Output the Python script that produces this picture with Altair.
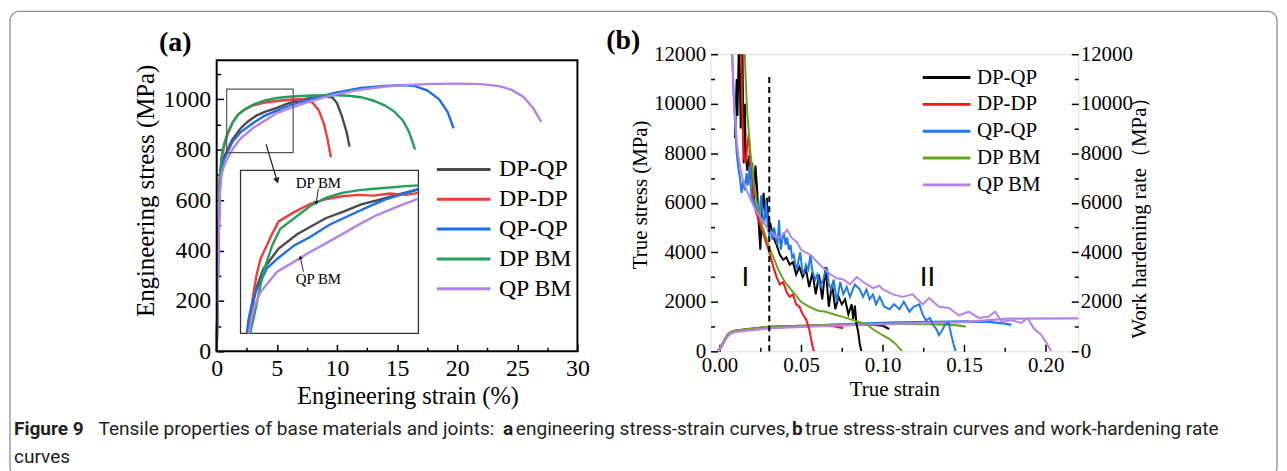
import altair as alt
import pandas as pd

SERIES = ["DP-QP", "DP-DP", "QP-QP", "DP BM", "QP BM"]
COLORS_A = ["#4a4a4a", "#ee3d3d", "#1d6fe5", "#23a05b", "#b384e8"]
COLORS_B = ["#000000", "#ff1414", "#1f7be6", "#67a51f", "#b682e8"]

SERIF = "Liberation Serif"
CAP_FONT = "Roboto"

# ---------------- (a) engineering strain (%) , engineering stress (MPa)
A_DPQP = [(0, 0), (0.12, 350), (0.25, 660), (0.4, 735), (0.6, 770), (0.9, 800), (1.3, 840), (2.0, 885),
          (2.6, 912), (3.3, 935), (4.0, 950), (5.0, 966), (6.0, 985), (7.0, 998), (8.0, 1006), (9.0, 1011),
          (9.6, 1008), (10.0, 985), (10.4, 935), (10.8, 870), (11.05, 812)]
A_DPDP = [(0, 0), (0.12, 360), (0.25, 680), (0.4, 760), (0.6, 810), (0.9, 860), (1.3, 905), (1.7, 935),
          (2.2, 955), (3.0, 975), (4.0, 987), (5.0, 993), (6.0, 998), (7.0, 1000), (7.6, 996), (8.0, 985),
          (8.5, 955), (8.9, 905), (9.2, 845), (9.5, 770)]
A_QPQP = [(0, 0), (0.12, 340), (0.25, 640), (0.4, 720), (0.6, 760), (0.9, 790), (1.3, 830), (2.0, 870),
          (3.0, 905), (4.0, 935), (5.0, 955), (6.0, 975), (7.0, 990), (8.0, 1003), (10.0, 1027), (12.0, 1045),
          (14.0, 1053), (15.5, 1056), (16.5, 1052), (17.5, 1035), (18.5, 1000), (19.2, 950), (19.7, 885)]
A_DPBM = [(0, 0), (0.12, 360), (0.25, 690), (0.4, 770), (0.6, 820), (0.9, 865), (1.3, 905), (1.8, 940),
          (2.4, 962), (3.0, 978), (4.0, 995), (5.0, 1005), (6.0, 1010), (7.0, 1013), (8.0, 1015), (9.0, 1016),
          (10.0, 1016), (11.0, 1014), (12.0, 1008), (13.0, 995), (14.0, 975), (14.8, 950), (15.5, 915),
          (16.0, 870), (16.5, 800)]
A_QPBM = [(0, 0), (0.12, 330), (0.25, 620), (0.4, 700), (0.6, 735), (0.9, 765), (1.3, 800), (2.0, 845),
          (3.0, 885), (4.0, 915), (5.0, 945), (6.0, 963), (7.0, 980), (8.0, 995), (9.0, 1008), (10.0, 1020),
          (12.0, 1038), (14.0, 1050), (16.0, 1057), (18.0, 1061), (20.0, 1062), (22.0, 1060), (23.5, 1052),
          (24.5, 1038), (25.5, 1010), (26.3, 966), (27.0, 910)]

# inset (zoomed view)
IN_DPQP = [(1.05, 785), (1.15, 820), (1.3, 852), (1.52, 880), (2.0, 910), (2.58, 931), (3.0, 942), (3.5, 955),
           (4.02, 964), (4.6, 975), (5.27, 983), (5.8, 990), (6.4, 997)]
IN_DPDP = [(1.04, 785), (1.12, 815), (1.2, 842), (1.3, 870), (1.43, 895), (1.6, 912), (1.8, 932), (2.0, 950),
           (2.5, 964), (3.0, 976), (3.5, 983), (4.0, 987), (4.5, 989), (5.0, 988), (5.5, 991), (6.0, 989), (6.4, 992)]
IN_QPQP = [(1.0, 785), (1.05, 805), (1.15, 827), (1.25, 843), (1.33, 851), (1.63, 881), (1.96, 895), (2.5, 915),
           (2.99, 927), (3.6, 945), (4.24, 959), (4.8, 971), (5.4, 983), (5.9, 990), (6.4, 998)]
IN_DPBM = [(1.1, 785), (1.2, 805), (1.3, 827), (1.52, 876), (1.8, 915), (2.05, 939), (2.5, 955), (3.0, 973),
           (3.5, 985), (4.0, 992), (4.55, 996), (5.0, 998), (5.5, 1000), (6.0, 1002), (6.4, 1003)]
IN_QPBM = [(1.06, 785), (1.14, 805), (1.22, 822), (1.43, 846), (1.95, 876), (2.47, 890), (2.99, 905), (3.5, 918),
           (4.03, 932), (4.55, 946), (5.08, 959), (5.7, 971), (6.38, 983)]
IN_X_DOMAIN = [0.8, 6.4]
IN_Y_DOMAIN = [785, 1025]
IN_LABELS = ["DP BM", "QP BM"]
IN_LABEL_X = [3.25, 3.25]
IN_LABEL_Y = [1006, 865]
IN_ARROW_X = [(3.25, 3.18), (2.78, 2.68)]
IN_ARROW_Y = [(998, 977), (876, 897)]

ZOOM_BOX_X = [0.83, 6.36]
ZOOM_BOX_Y = [788, 1040]
ZOOM_ARROW_X = [4.11, 5.02]
ZOOM_ARROW_Y = [821, 677]

A_X_DOMAIN = [0, 30]
A_Y_DOMAIN = [0, 1155]
A_XTICKS = [2.5 * k for k in range(13)]
A_YTICKS = list(range(0, 1101, 100))

# ---------------- (b) true strain, true stress / work hardening rate (MPa)
B_TS_DPQP = [(-0.001, 0), (0.001, 180), (0.003, 430), (0.005, 650), (0.007, 760), (0.010, 820), (0.017, 880),
             (0.030, 975), (0.045, 1010), (0.06, 1035), (0.08, 1070), (0.092, 1090), (0.1, 1040), (0.104, 900)]
B_TS_DPDP = [(-0.001, 0), (0.001, 190), (0.003, 450), (0.005, 670), (0.007, 780), (0.010, 840), (0.017, 900),
             (0.030, 990), (0.04, 1010), (0.05, 1025), (0.06, 1035), (0.07, 1020), (0.0758, 935)]
B_TS_QPQP = [(-0.001, 0), (0.001, 180), (0.003, 430), (0.005, 650), (0.007, 760), (0.010, 815), (0.017, 870),
             (0.030, 960), (0.05, 1010), (0.07, 1080), (0.09, 1130), (0.11, 1170), (0.13, 1190), (0.15, 1205),
             (0.165, 1190), (0.175, 1120), (0.179, 1070)]
B_TS_DPBM = [(-0.001, 0), (0.001, 190), (0.003, 450), (0.005, 670), (0.007, 780), (0.010, 835), (0.017, 890),
             (0.030, 985), (0.05, 1030), (0.07, 1070), (0.09, 1095), (0.11, 1105), (0.13, 1095), (0.145, 1060),
             (0.151, 1000)]
B_TS_QPBM = [(-0.001, 0), (0.001, 170), (0.003, 410), (0.005, 620), (0.007, 730), (0.010, 790), (0.017, 840),
             (0.030, 930), (0.05, 990), (0.07, 1040), (0.09, 1080), (0.11, 1120), (0.13, 1150), (0.15, 1180),
             (0.165, 1260), (0.177, 1320), (0.22, 1330)]

B_WH_DPQP = [(0.0095, 8600), (0.0105, 11000), (0.011, 9500), (0.012, 13000), (0.013, 9000), (0.014, 12500),
             (0.0148, 7600), (0.0155, 10000), (0.016, 8000), (0.017, 7300), (0.018, 7900), (0.019, 7400),
             (0.020, 7600), (0.021, 5900), (0.022, 7500), (0.023, 6600), (0.024, 5200), (0.025, 4100),
             (0.026, 5600), (0.027, 6400), (0.028, 5400), (0.029, 6200), (0.030, 4900), (0.031, 5200),
             (0.033, 4600), (0.035, 4300), (0.037, 3900), (0.039, 3700), (0.041, 3800), (0.043, 3500),
             (0.045, 3600), (0.047, 3100), (0.049, 3400), (0.051, 3000), (0.053, 3300), (0.055, 2600),
             (0.057, 3200), (0.059, 2300), (0.061, 3100), (0.063, 2100), (0.065, 3400), (0.067, 1800),
             (0.069, 2700), (0.071, 1700), (0.073, 2200), (0.075, 1900), (0.077, 2100), (0.079, 1500),
             (0.081, 1900), (0.082, 1300), (0.083, 1850), (0.084, 1100), (0.085, 800), (0.086, 300), (0.087, 0)]
B_WH_DPDP = [(0.013, 13000), (0.014, 9500), (0.015, 7800), (0.016, 7600), (0.017, 8300), (0.018, 8800),
             (0.019, 7400), (0.020, 7000), (0.021, 6000), (0.022, 5700), (0.024, 5300), (0.026, 4900),
             (0.028, 4500), (0.030, 4100), (0.031, 3900), (0.033, 3400), (0.035, 3000), (0.037, 2700),
             (0.039, 2800), (0.041, 2400), (0.043, 2200), (0.045, 2300), (0.047, 1900), (0.049, 1800),
             (0.051, 1500), (0.053, 1300), (0.055, 900), (0.057, 200), (0.058, 0)]
B_WH_QPQP = [(0.0075, 12500), (0.0085, 10500), (0.0095, 9200), (0.0105, 8000), (0.0115, 7400), (0.0125, 7000),
             (0.0135, 6400), (0.0145, 6900), (0.0155, 6500), (0.0165, 7200), (0.0175, 6700), (0.0185, 7500),
             (0.0195, 6300), (0.0205, 6000), (0.0215, 6100), (0.0225, 5600), (0.0235, 5900), (0.0245, 5500),
             (0.0255, 6300), (0.0265, 5400), (0.0275, 5300), (0.0285, 6100), (0.0295, 5000), (0.0305, 4700),
             (0.0315, 4900), (0.0325, 4500), (0.0335, 5000), (0.0345, 4600), (0.0355, 4300), (0.0365, 5300),
             (0.0375, 4100), (0.0385, 4500), (0.0395, 4800), (0.0405, 4300), (0.0415, 4600), (0.0425, 4100),
             (0.0435, 4300), (0.0445, 3800), (0.0455, 3900), (0.0465, 3500), (0.0475, 3300), (0.0485, 3700),
             (0.0495, 4000), (0.0505, 3400), (0.0515, 3100), (0.0530, 3500), (0.0545, 3300), (0.0557, 3900),
             (0.0570, 3200), (0.0587, 2900), (0.0600, 3100), (0.0617, 2600), (0.0635, 2900), (0.0658, 3400),
             (0.0670, 2700), (0.0685, 2500), (0.0700, 2900), (0.0719, 2000), (0.0740, 2800), (0.0759, 2300),
             (0.0780, 2600), (0.0800, 2200), (0.0830, 2700), (0.0860, 2500), (0.0880, 2200), (0.0901, 2500),
             (0.0920, 2100), (0.0941, 2300), (0.0960, 1900), (0.0982, 2200), (0.1010, 1800), (0.1043, 1700),
             (0.1070, 1900), (0.1103, 1700), (0.1130, 2000), (0.1164, 1600), (0.1190, 1800), (0.1225, 1900),
             (0.1245, 1500), (0.1265, 1250), (0.1290, 1350), (0.1310, 1050), (0.1330, 900), (0.1345, 650),
             (0.1365, 850), (0.1385, 1100), (0.1406, 1150), (0.1420, 700), (0.1435, 300), (0.1447, 0)]
B_WH_DPBM = [(0.0150, 13000), (0.016, 11000), (0.017, 9600), (0.018, 8800), (0.019, 8000), (0.020, 7400),
             (0.022, 6300), (0.024, 5700), (0.026, 5100), (0.028, 4700), (0.030, 4300), (0.033, 3800),
             (0.036, 3300), (0.040, 2800), (0.045, 2400), (0.050, 2000), (0.055, 1800), (0.060, 1650),
             (0.065, 1600), (0.070, 1500), (0.075, 1400), (0.080, 1300), (0.085, 1200), (0.090, 1100),
             (0.095, 850), (0.100, 650), (0.104, 500), (0.108, 300), (0.112, 0)]
B_WH_QPBM = [(0.0075, 12500), (0.0085, 10800), (0.0095, 9500), (0.0105, 8500), (0.0115, 7900), (0.0125, 7500),
             (0.014, 7000), (0.016, 6600), (0.018, 6300), (0.020, 6000), (0.023, 5600), (0.026, 5300),
             (0.029, 5000), (0.032, 4800), (0.035, 4600), (0.038, 4650), (0.0415, 4900), (0.044, 4600),
             (0.0476, 4400), (0.050, 4100), (0.0557, 3900), (0.060, 3600), (0.0638, 3350), (0.068, 3100),
             (0.0719, 2950), (0.076, 2900), (0.080, 2700), (0.0841, 3000), (0.0881, 2800), (0.0941, 2550),
             (0.098, 2650), (0.1002, 2500), (0.1063, 2300), (0.1123, 2200), (0.1184, 2300), (0.1245, 1900),
             (0.1285, 2150), (0.1346, 1800), (0.1407, 1750), (0.1468, 1450), (0.1528, 1600), (0.1589, 1350),
             (0.165, 1400), (0.169, 1600), (0.1731, 1200), (0.1791, 1250), (0.185, 1150), (0.189, 1335),
             (0.193, 900), (0.197, 680), (0.2005, 350), (0.2034, 0)]

DASH_X = 0.0305
DASH_Y = [0, 11170]
ROMAN_TEXT = ["I", "II"]
ROMAN_X = [0.0158, 0.1275]
ROMAN_Y = [2940, 2940]

B_XTICKS = [round(0.025 * k, 3) for k in range(9)]
B_YTICKS = list(range(0, 12001, 1000))

CAPTION_LINE1 = [("Figure 9", True), ("Tensile properties of base materials and joints:", False),
                 ("a", True), ("engineering stress-strain curves,", False), ("b", True),
                 ("true stress-strain curves and work-hardening rate", False)]
CAPTION_LINE2 = "curves"


def table(curves):
    rows = []
    for name, pts in curves:
        for i, (x, y) in enumerate(pts):
            rows.append({"series": name, "x": x, "y": y, "i": i})
    return pd.DataFrame(rows)


one = pd.DataFrame({"v": [0]})

AX = dict(labelFont=SERIF, titleFont=SERIF, labelColor="black", titleColor="black", tickColor="black",
          tickWidth=1.5, domain=False, grid=False, titleFontWeight="normal", labelFlush=False,
          labelOverlap=False)

# ================= panel (a)  (view is 299 tall; plot frame occupies its lower 293 px)
W_A, H_A = 363, 299
TOP_A = 6
df_a = table(list(zip(SERIES, [A_DPQP, A_DPDP, A_QPQP, A_DPBM, A_QPBM])))
df_in = table(list(zip(SERIES, [IN_DPQP, IN_DPDP, IN_QPQP, IN_DPBM, IN_QPBM])))

sx_a = alt.Scale(domain=A_X_DOMAIN, nice=False, zero=False)
sy_a = alt.Scale(domain=A_Y_DOMAIN, range=[H_A, TOP_A], nice=False, zero=False)
col_a = alt.Scale(domain=SERIES, range=COLORS_A)
leg_a = alt.Legend(orient="none", legendX=220, legendY=98 + TOP_A, title=None, symbolType="stroke",
                   symbolSize=2916, symbolStrokeWidth=3, labelFont=SERIF, labelFontSize=24, labelColor="black",
                   clipHeight=24, rowPadding=6, labelOffset=7, padding=0)

ax_a_x = alt.Axis(values=A_XTICKS, format="d", labelExpr="datum.value % 5 === 0 ? datum.label : ''",
                  tickSize={"expr": "datum.value % 5 === 0 ? -7 : -4"}, labelFontSize=24, labelPadding=12,
                  title="Engineering strain (%)", titleFontSize=24.5, titleX=192, titleY=53,
                  titleBaseline="alphabetic", titleAlign="center", **AX)
ax_a_y = alt.Axis(values=A_YTICKS, format="d", labelExpr="datum.value % 200 === 0 ? datum.label : ''",
                  tickSize={"expr": "datum.value % 200 === 0 ? -7 : -4"}, labelFontSize=24, labelPadding=13,
                  title="Engineering stress (MPa)", titleFontSize=25, titleAngle=270, titleX=-64,
                  titleY=131 + TOP_A, titleBaseline="alphabetic", titleAlign="center", **AX)

lines_a = alt.Chart(df_a).mark_line(strokeWidth=2.4).encode(
    x=alt.X("x:Q", scale=sx_a, axis=ax_a_x),
    y=alt.Y("y:Q", scale=sy_a, axis=ax_a_y),
    color=alt.Color("series:N", scale=col_a, legend=leg_a),
    order=alt.Order("i:Q"),
)


def rect_layer(xs, ys, sx, sy, ax_x, ax_y, stroke, width):
    return alt.Chart(pd.DataFrame({"x": [xs[0]], "x2": [xs[1]], "y": [ys[0]], "y2": [ys[1]]})).mark_rect(
        fill="transparent", stroke=stroke, strokeWidth=width).encode(
        x=alt.X("x:Q", scale=sx, axis=ax_x), x2="x2:Q", y=alt.Y("y:Q", scale=sy, axis=ax_y), y2="y2:Q")


frame_a = rect_layer(A_X_DOMAIN, A_Y_DOMAIN, sx_a, sy_a, ax_a_x, ax_a_y, "black", 2)
box_a = rect_layer(ZOOM_BOX_X, ZOOM_BOX_Y, sx_a, sy_a, ax_a_x, ax_a_y, "#555555", 1.2)
arrow_a = alt.Chart(pd.DataFrame({"x": [ZOOM_ARROW_X[0]], "x2": [ZOOM_ARROW_X[1]], "y": [ZOOM_ARROW_Y[0]],
                                  "y2": [ZOOM_ARROW_Y[1]]})).mark_rule(color="#222222", strokeWidth=1.3).encode(
    x=alt.X("x:Q", scale=sx_a, axis=ax_a_x), x2="x2:Q", y=alt.Y("y:Q", scale=sy_a, axis=ax_a_y), y2="y2:Q")
head_a = alt.Chart(pd.DataFrame({"x": [ZOOM_ARROW_X[1]], "y": [ZOOM_ARROW_Y[1]]})).mark_point(
    shape="triangle-down", filled=True, color="#222222", size=45, angle=343, opacity=1).encode(
    x=alt.X("x:Q", scale=sx_a, axis=ax_a_x), y=alt.Y("y:Q", scale=sy_a, axis=ax_a_y))
tag_a = alt.Chart(one).mark_text(text="(a)", font=SERIF, fontSize=28, fontWeight="bold", align="left",
                                 baseline="alphabetic", color="black").encode(
    x=alt.value(-58), y=alt.value(-9 + TOP_A))

main_a = alt.layer(lines_a, frame_a, box_a, arrow_a, head_a, tag_a)

sx_in = alt.Scale(domain=IN_X_DOMAIN, range=[24, 203], nice=False, zero=False)
sy_in = alt.Scale(domain=IN_Y_DOMAIN, range=[275 + TOP_A, 111 + TOP_A], nice=False, zero=False)
inset_lines = alt.Chart(df_in).mark_line(strokeWidth=2.4).encode(
    x=alt.X("x:Q", scale=sx_in, axis=None),
    y=alt.Y("y:Q", scale=sy_in, axis=None),
    color=alt.Color("series:N", scale=col_a, legend=leg_a),
    order=alt.Order("i:Q"),
)
inset_frame = rect_layer(IN_X_DOMAIN, IN_Y_DOMAIN, sx_in, sy_in, None, None, "#333333", 1.3)
inset_text = alt.Chart(pd.DataFrame({"t": IN_LABELS, "x": IN_LABEL_X, "y": IN_LABEL_Y})).mark_text(
    font=SERIF, fontSize=15, color="black", baseline="middle").encode(
    x=alt.X("x:Q", scale=sx_in, axis=None), y=alt.Y("y:Q", scale=sy_in, axis=None), text="t:N")
inset_arrows = alt.Chart(pd.DataFrame({"x": [a[0] for a in IN_ARROW_X], "x2": [a[1] for a in IN_ARROW_X],
                                       "y": [a[0] for a in IN_ARROW_Y], "y2": [a[1] for a in IN_ARROW_Y]})).mark_rule(
    color="#222222", strokeWidth=1).encode(
    x=alt.X("x:Q", scale=sx_in, axis=None), x2="x2:Q", y=alt.Y("y:Q", scale=sy_in, axis=None), y2="y2:Q")
head_dp = alt.Chart(pd.DataFrame({"x": [IN_ARROW_X[0][1]], "y": [IN_ARROW_Y[0][1]]})).mark_point(
    shape="triangle-down", filled=True, color="#222222", size=20, angle=8, opacity=1).encode(
    x=alt.X("x:Q", scale=sx_in, axis=None), y=alt.Y("y:Q", scale=sy_in, axis=None))
head_qp = alt.Chart(pd.DataFrame({"x": [IN_ARROW_X[1][1]], "y": [IN_ARROW_Y[1][1]]})).mark_point(
    shape="triangle-up", filled=True, color="#222222", size=20, angle=348, opacity=1).encode(
    x=alt.X("x:Q", scale=sx_in, axis=None), y=alt.Y("y:Q", scale=sy_in, axis=None))

inset_a = alt.layer(inset_frame, inset_lines, inset_text, inset_arrows, head_dp, head_qp)

panel_a = alt.layer(main_a, inset_a).resolve_scale(x="independent", y="independent").properties(
    width=W_A, height=H_A, view=alt.ViewBackground(stroke="transparent"))

# ================= panel (b)
W_B, H_B = 370, 299
df_ts = table(list(zip(SERIES, [B_TS_DPQP, B_TS_DPDP, B_TS_QPQP, B_TS_DPBM, B_TS_QPBM])))
df_wh = table(list(zip(SERIES, [B_WH_DPQP, B_WH_DPDP, B_WH_QPQP, B_WH_DPBM, B_WH_QPBM])))

sx_b = alt.Scale(domain=[-0.0055, 0.22], nice=False, zero=False)
sy_b = alt.Scale(domain=[0, 12000], nice=False, zero=False)
col_b = alt.Scale(domain=SERIES, range=COLORS_B)
leg_b = alt.Legend(orient="none", legendX=212, legendY=13, title=None, symbolType="stroke", symbolSize=2304,
                   symbolStrokeWidth=3, labelFont=SERIF, labelFontSize=21, labelColor="black", clipHeight=21,
                   rowPadding=5, labelOffset=5, padding=0)

ax_b_x = alt.Axis(values=B_XTICKS, format=".2f",
                  labelExpr="abs(round(datum.value*1000)) % 50 === 0 ? datum.label : ''",
                  tickSize={"expr": "abs(round(datum.value*1000)) % 50 === 0 ? -7 : -4"},
                  labelFontSize=21, labelPadding=10, title="True strain", titleFontSize=21, titleX=185,
                  titleY=44, titleBaseline="alphabetic", titleAlign="center", **AX)
ax_b_yl = alt.Axis(values=B_YTICKS, format="d", orient="left",
                   labelExpr="datum.value % 2000 === 0 ? datum.label : ''",
                   tickSize={"expr": "datum.value % 2000 === 0 ? -7 : -4"}, labelFontSize=21, labelPadding=12,
                   title="True stress (MPa)", titleFontSize=21, titleAngle=270, titleX=-64, titleY=141,
                   titleBaseline="alphabetic", titleAlign="center", **AX)
ax_b_yr = alt.Axis(values=B_YTICKS, format="d", orient="right",
                   labelExpr="datum.value % 2000 === 0 ? datum.label : ''",
                   tickSize={"expr": "datum.value % 2000 === 0 ? -7 : -4"}, labelFontSize=21, labelPadding=9,
                   title="Work hardening rate（MPa）", titleFontSize=21, titleAngle=270, titleX=68, titleY=159,
                   titleBaseline="alphabetic", titleAlign="center", **AX)

ts_lines = alt.Chart(df_ts).mark_line(strokeWidth=2.3).encode(
    x=alt.X("x:Q", scale=sx_b, axis=ax_b_x),
    y=alt.Y("y:Q", scale=sy_b, axis=ax_b_yl),
    color=alt.Color("series:N", scale=col_b, legend=leg_b),
    order=alt.Order("i:Q"),
)
wh_lines = alt.Chart(df_wh).mark_line(strokeWidth=2, clip=True).encode(
    x=alt.X("x:Q", scale=sx_b, axis=ax_b_x),
    y=alt.Y("y:Q", scale=sy_b, axis=ax_b_yr),
    color=alt.Color("series:N", scale=col_b, legend=leg_b),
    order=alt.Order("i:Q"),
)
dash_b = alt.Chart(pd.DataFrame({"x": [DASH_X], "y": [DASH_Y[0]], "y2": [DASH_Y[1]]})).mark_rule(
    color="black", strokeWidth=2, strokeDash=[6, 4]).encode(
    x=alt.X("x:Q", scale=sx_b, axis=ax_b_x), y=alt.Y("y:Q", scale=sy_b, axis=None), y2="y2:Q")
roman_b = alt.Chart(pd.DataFrame({"t": ROMAN_TEXT, "x": ROMAN_X, "y": ROMAN_Y})).mark_text(
    font="Liberation Sans", fontSize=28, color="black", baseline="middle").encode(
    x=alt.X("x:Q", scale=sx_b, axis=ax_b_x), y=alt.Y("y:Q", scale=sy_b, axis=None), text="t:N")
tag_b = alt.Chart(one).mark_text(text="(b)", font=SERIF, fontSize=28, fontWeight="bold", align="left",
                                 baseline="alphabetic", color="black").encode(x=alt.value(-105), y=alt.value(-5))

panel_b = alt.layer(ts_lines, wh_lines, dash_b, roman_b, tag_b).resolve_scale(
    y="independent").properties(width=W_B, height=H_B)

# ================= caption and outer frame (positions relative to the caption cell)
CAP_SIZE = 19.2
CAP_X1 = [-204, -119, 288, 301, 579, 592]
cap_layers = [alt.Chart(one).mark_rect(fill="transparent", stroke="#8c8c8c", strokeWidth=1.3,
                                       cornerRadius=9).encode(
    x=alt.value(-208), x2=alt.value(1067), y=alt.value(-352), y2=alt.value(116))]
for (txt, bold), cx in zip(CAPTION_LINE1, CAP_X1):
    cap_layers.append(alt.Chart(one).mark_text(
        text=txt, align="left", baseline="alphabetic", font=CAP_FONT, fontSize=CAP_SIZE,
        fontWeight="bold" if bold else "normal", color="#231f20").encode(x=alt.value(cx), y=alt.value(74)))
cap_layers.append(alt.Chart(one).mark_text(
    text=CAPTION_LINE2, align="left", baseline="alphabetic", font=CAP_FONT, fontSize=CAP_SIZE,
    color="#231f20").encode(x=alt.value(-204), y=alt.value(102)))
caption = alt.layer(*cap_layers).properties(width=W_A, height=100,
                                            view=alt.ViewBackground(stroke="transparent"))

chart = alt.concat(panel_a, panel_b, caption, columns=2, spacing={"row": 10, "column": 134},
                   bounds="flush").resolve_scale(color="independent").properties(padding=0).configure_view(
    stroke="black", strokeWidth=2).configure(background="white")

chart.save("out.html", embed_options={"renderer": "svg", "actions": False})
